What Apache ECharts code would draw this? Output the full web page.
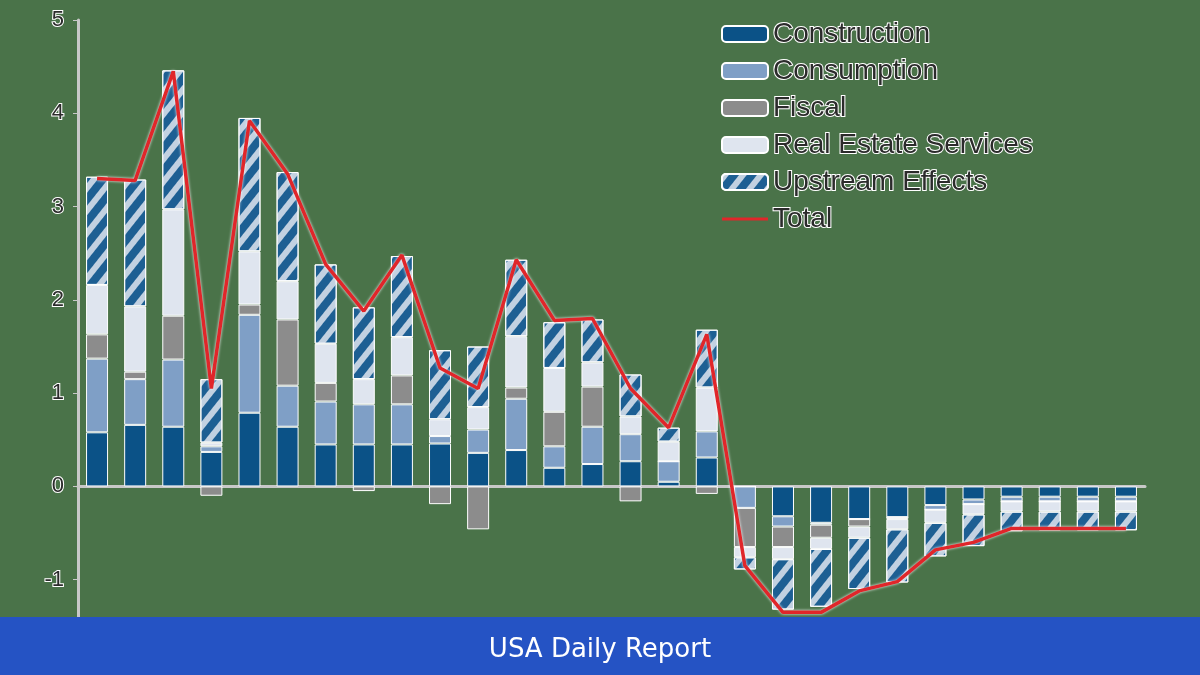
<!DOCTYPE html>
<html><head><meta charset="utf-8">
<script src="https://cdn.jsdelivr.net/npm/echarts@6/dist/echarts.min.js"></script>
<style>html,body{margin:0;padding:0;background:#4a7349}#c{width:1200px;height:675px}</style>
</head><body><div id="c"></div>
<script>
const categories = ['1','2','3','4','5','6','7','8','9','10','11','12','13','14','15','16','17','18','19','20','21','22','23','24','25','26','27','28'];
const construction = [0.58,0.66,0.64,0.37,0.79,0.64,0.45,0.45,0.45,0.46,0.36,0.39,0.20,0.24,0.27,0.05,0.31,0,-0.32,-0.39,-0.35,-0.33,-0.20,-0.14,-0.11,-0.11,-0.11,-0.11];
const consumption = [0.79,0.49,0.72,0.06,1.05,0.44,0.46,0.43,0.43,0.08,0.25,0.55,0.23,0.40,0.29,0.22,0.28,-0.23,-0.11,-0.02,0,0,-0.05,-0.05,-0.05,-0.05,-0.05,-0.05];
const fiscal = [0.26,0.08,0.47,-0.10,0.11,0.71,0.20,-0.05,0.31,-0.19,-0.46,0.12,0.37,0.43,-0.16,0,-0.08,-0.42,-0.22,-0.14,-0.08,-0.02,0,0,0,0,0,0];
const realEstate = [0.53,0.70,1.14,0.04,0.57,0.41,0.42,0.27,0.41,0.18,0.24,0.55,0.47,0.26,0.19,0.21,0.47,-0.11,-0.13,-0.12,-0.12,-0.11,-0.14,-0.11,-0.11,-0.11,-0.11,-0.11];
const upstream = [1.16,1.36,1.49,0.68,1.43,1.17,0.85,0.77,0.87,0.74,0.65,0.82,0.49,0.46,0.45,0.15,0.62,-0.13,-0.54,-0.62,-0.55,-0.57,-0.36,-0.34,-0.21,-0.20,-0.20,-0.20];
const total = [3.30,3.28,4.45,1.05,3.92,3.35,2.38,1.88,2.48,1.27,1.05,2.43,1.78,1.80,1.05,0.63,1.63,-0.85,-1.35,-1.35,-1.12,-1.02,-0.68,-0.60,-0.45,-0.45,-0.45,-0.45];
const yTicks = ['5','4','3','2','1','0','-1','-2'];

const txt = {color:'#2b2b2b', textBorderColor:'#ffffff', textBorderWidth:2, fontFamily:'Liberation Sans, Arial, sans-serif'};
const barBase = {type:'bar', stack:'s', barWidth:22, itemStyle:{borderColor:'#ffffff', borderWidth:1}};
function bar(name, data, color, extra){
  const s = Object.assign({}, barBase, {name, data});
  s.itemStyle = Object.assign({}, barBase.itemStyle, {color}, extra||{});
  return s;
}
const chart = echarts.init(document.getElementById('c'));
chart.setOption({
  backgroundColor:'#4a7349',
  animation:false,
  grid:{left:78, right:55, top:20, bottom:2, outerBoundsMode:'none', containLabel:false},
  legend:{
    orient:'vertical', left:716, top:14, itemGap:7, itemWidth:46, itemHeight:16,
    textStyle:Object.assign({fontSize:28, letterSpacing:-1}, txt),
    data:['Construction','Consumption','Fiscal','Real Estate Services','Upstream Effects',
      {name:'Total', icon:'path://M0,9 L46,9 L46,12 L0,12 Z'}]
  },
  xAxis:{type:'category', data:categories, axisLabel:{show:false},
    axisLine:{onZero:true, lineStyle:{color:'#c8c8c8', width:3}},
    axisTick:{show:false}},
  yAxis:{type:'value', min:-2, max:5, interval:1, splitLine:{show:false},
    axisLine:{show:true, lineStyle:{color:'#c8c8c8', width:3}},
    axisTick:{show:true, length:5, lineStyle:{color:'#c8c8c8'}},
    axisLabel:Object.assign({fontSize:22, margin:14, formatter:v=>String(v)}, txt)},
  series:[
    bar('Construction', construction, '#0b5287'),
    bar('Consumption', consumption, '#7f9fc6'),
    bar('Fiscal', fiscal, '#8c8c8c'),
    bar('Real Estate Services', realEstate, '#dfe5ef'),
    bar('Upstream Effects', upstream, '#1d5f93', {decal:{symbol:'rect', color:'rgba(223,229,239,0.85)', dashArrayX:[1,0], dashArrayY:[6,8], rotation:-0.9}}),
    {type:'line', name:'Total', data:total, symbol:'none', z:10,
      lineStyle:{color:'#e0262a', width:3.5, shadowColor:'#ffffff', shadowBlur:3},
      itemStyle:{color:'#e0262a'}}
  ],
  graphic:[
    {type:'rect', left:0, top:617, shape:{width:1200, height:58}, style:{fill:'#2553c4'}, z:100},
    {type:'text', left:'center', top:637, style:{text:'USA Daily Report', fill:'#ffffff', fontSize:26, fontFamily:'DejaVu Sans, sans-serif'}, z:101}
  ]
});
</script></body></html>
